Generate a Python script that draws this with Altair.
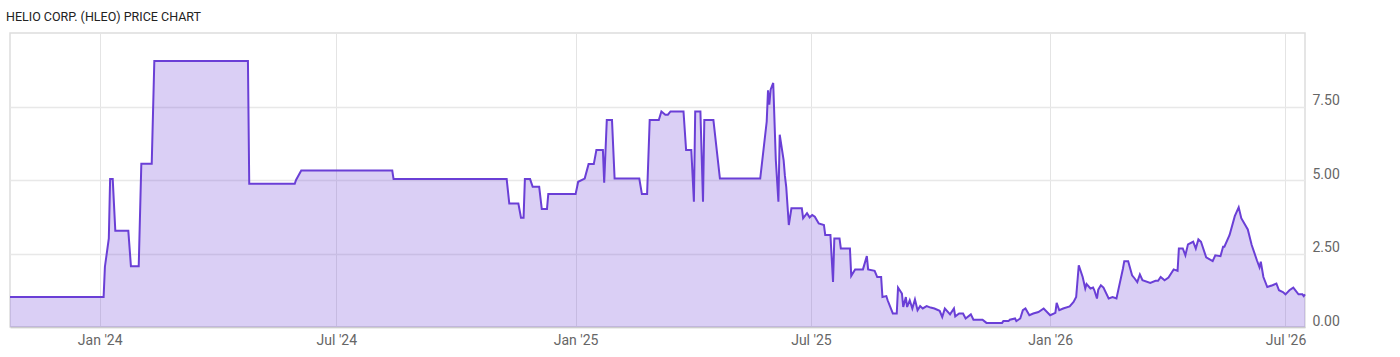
import altair as alt
import pandas as pd

base_date = "2024-01-01"
day_offset = [
    -69, 3, 4, 7, 8, 10, 12, 22, 24, 30, 32, 40, 42, 114, 115, 150, 151, 155, 225, 226,
    313, 315, 322, 324, 326, 327, 331, 333, 338, 340, 344, 345, 366, 368, 373, 376, 380, 382, 387, 388,
    390, 394, 396, 415, 417, 421, 423, 430, 432, 435, 437, 439, 449, 451, 455, 457, 458, 462, 464, 465,
    472, 477, 508, 513, 514, 515, 516, 518, 520, 522, 523, 526, 527, 528, 530, 532, 540, 541, 544, 546,
    548, 550, 553, 557, 558, 562, 564, 565, 569, 570, 577, 578, 581, 587, 590, 591, 596, 598, 601, 602,
    605, 606, 610, 613, 614, 617, 618, 620, 621, 623, 625, 627, 629, 631, 633, 636, 639, 642, 646, 648,
    650, 653, 654, 657, 658, 661, 664, 666, 670, 672, 679, 682, 694, 695, 699, 700, 704, 705, 708, 710,
    712, 715, 718, 722, 726, 731, 735, 736, 738, 741, 746, 749, 751, 753, 756, 758, 759, 762, 764, 765,
    767, 768, 770, 772, 776, 779, 782, 787, 788, 791, 794, 796, 798, 800, 802, 808, 812, 814, 816, 819,
    822, 826, 829, 830, 833, 835, 837, 841, 843, 845, 847, 851, 856, 858, 862, 864, 865, 869, 873, 876,
    878, 883, 886, 890, 892, 893, 895, 898, 902, 905, 907, 910, 912, 915, 918, 922, 925, 926, 927,
]
price = [
    1.02, 1.02, 2.05, 3.01, 5.03, 5.03, 3.27, 3.27, 2.07, 2.07, 5.55, 5.55, 9.05, 9.05, 4.87, 4.87, 5.00, 5.32, 5.32, 5.03,
    5.03, 4.20, 4.20, 3.72, 3.72, 5.03, 5.03, 4.77, 4.77, 4.01, 4.01, 4.52, 4.52, 4.94, 5.05, 5.54, 5.54, 6.02, 6.02, 4.91,
    7.04, 7.04, 5.05, 5.05, 4.52, 4.52, 7.04, 7.04, 7.33, 7.22, 7.22, 7.33, 7.33, 6.02, 6.02, 4.26, 7.33, 7.33, 4.26, 7.04,
    7.04, 5.05, 5.05, 6.99, 8.05, 7.56, 8.07, 8.30, 5.68, 4.26, 6.54, 5.68, 5.14, 4.77, 3.47, 4.04, 4.04, 3.70, 3.87, 3.73,
    3.81, 3.75, 3.52, 3.47, 3.13, 3.13, 1.53, 3.01, 3.01, 2.67, 2.67, 1.74, 1.96, 1.96, 2.41, 1.96, 1.91, 1.70, 1.70, 1.02,
    1.05, 0.91, 0.46, 0.46, 1.34, 1.14, 0.68, 1.02, 0.68, 0.91, 0.63, 0.94, 0.57, 0.71, 0.63, 0.71, 0.66, 0.63, 0.55, 0.34,
    0.63, 0.48, 0.43, 0.63, 0.36, 0.46, 0.46, 0.29, 0.43, 0.25, 0.25, 0.14, 0.14, 0.20, 0.20, 0.25, 0.29, 0.20, 0.29, 0.57,
    0.63, 0.40, 0.46, 0.51, 0.63, 0.40, 0.48, 0.82, 0.57, 0.63, 0.70, 0.85, 1.02, 2.10, 1.70, 1.31, 1.46, 1.31, 1.34, 1.25,
    0.97, 1.27, 1.42, 1.34, 0.97, 1.02, 0.97, 1.99, 2.24, 2.24, 1.76, 1.65, 1.53, 1.79, 1.59, 1.50, 1.57, 1.57, 1.70, 1.59,
    1.68, 1.96, 1.91, 2.67, 2.67, 2.44, 2.81, 2.90, 2.67, 2.98, 2.90, 2.37, 2.24, 2.44, 2.41, 2.73, 2.73, 3.13, 3.77, 4.07,
    3.70, 3.32, 2.79, 2.27, 2.03, 2.22, 1.70, 1.36, 1.42, 1.48, 1.25, 1.19, 1.11, 1.25, 1.34, 1.11, 1.11, 1.05, 1.11,
]
x_domain = ["2023-10-24", "2026-07-16"]
y_ticks = [0, 2.5, 5, 7.5]
chart_title = "HELIO CORP. (HLEO) PRICE CHART"

dates = (pd.Timestamp(base_date) + pd.to_timedelta(day_offset, unit="D")).strftime("%Y-%m-%d")
df = pd.DataFrame({"date": dates, "price": price})

line_color = "#6a3fd6"

chart = (
    alt.Chart(df)
    .mark_area(
        color=line_color,
        fillOpacity=0.25,
        interpolate="linear",
        line={"color": line_color, "strokeWidth": 2},
    )
    .encode(
        x=alt.X(
            "date:T",
            scale=alt.Scale(type="utc", domain=x_domain, nice=False),
            axis=alt.Axis(
                title=None,
                format="%b '%y",
                tickCount={"interval": "month", "step": 6},
                ticks=False,
                domain=True,
                domainColor="#cccccc",
                domainWidth=1.5,
                labelPadding=6,
                labelFontSize=14,
                labelColor="#666666",
                labelFont="Roboto",
                gridColor="#e4e4e4",
                labelFlush=False,
            ),
        ),
        y=alt.Y(
            "price:Q",
            scale=alt.Scale(domain=[0, 10], nice=False),
            axis=alt.Axis(
                title=None,
                orient="right",
                values=y_ticks,
                format=".2f",
                ticks=False,
                domain=False,
                labelPadding=7,
                labelFontSize=14,
                labelColor="#666666",
                labelFont="Roboto",
                labelBaseline="alphabetic",
                labelOffset=-2,
                gridColor="#e8e8e8",
                gridWidth=1.5,
            ),
        ),
    )
    .properties(
        width=1295,
        height=294,
        title=alt.TitleParams(
            text=chart_title,
            anchor="start",
            font="Roboto",
            fontSize=12.5,
            fontWeight="normal",
            color="#222222",
            baseline="alphabetic",
            offset=0,
        ),
        padding={"left": 10, "top": 33, "right": 95, "bottom": 30},
        autosize=alt.AutoSizeParams(type="none"),
        background="white",
    )
    .configure_view(stroke="#dddddd", strokeWidth=1.5)
)

chart.save("out.html", embed_options={"renderer": "svg", "actions": False})
